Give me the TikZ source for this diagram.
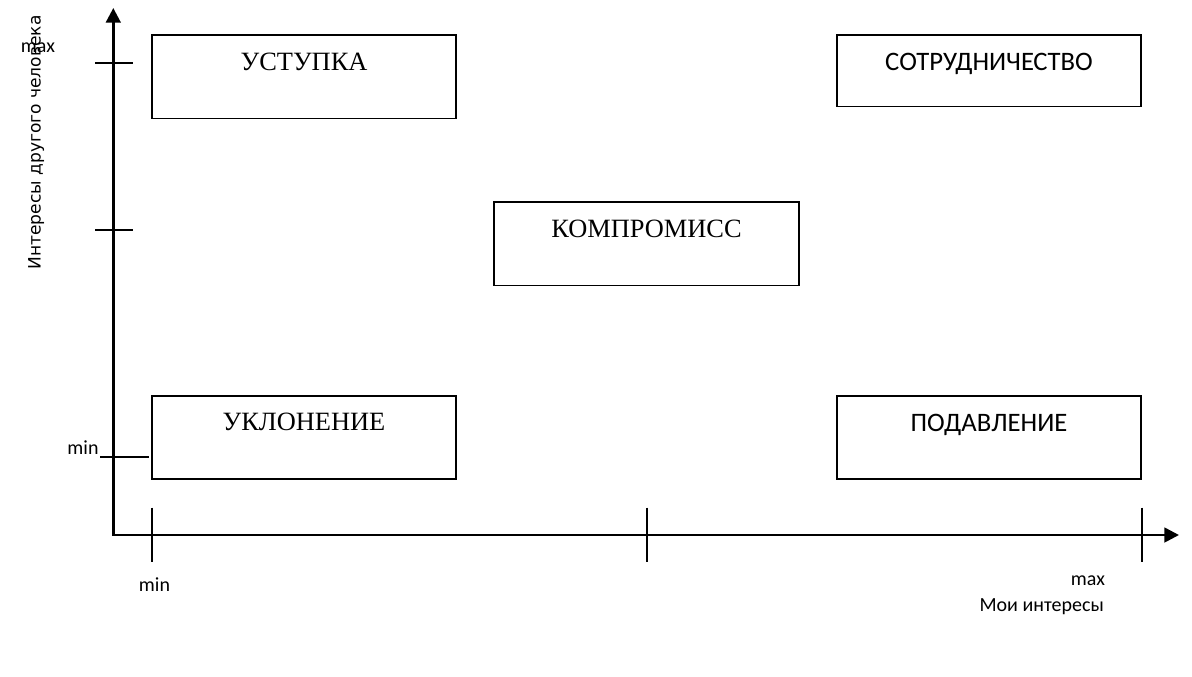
\documentclass[tikz,border=0pt]{standalone}
\usepackage{fontspec}
\setmainfont{Liberation Serif}
\newfontfamily\carlito{Carlito}
\newfontfamily\dejavu{DejaVu Sans}
\usetikzlibrary{arrows.meta,calc}

\begin{document}
\begin{tikzpicture}[
  x=0.75pt, y=-0.75pt,
  box/.style={draw, line width=1.4pt, minimum width=228.4pt, minimum height=62.6pt, inner sep=0pt},
  rtxt/.style={anchor=base, inner sep=0pt, font=\fontsize{19.8}{23}\selectfont},
  stxt/.style={anchor=base, inner sep=0pt, font=\carlito\fontsize{20}{24}\selectfont},
  lbl/.style={anchor=base, inner sep=0pt, font=\carlito\fontsize{15}{18}\selectfont},
  axis/.style={line width=2pt, {Triangle[length=11pt, width=11pt]}-{Triangle[length=11pt, width=11pt]}},
  tk/.style={line width=1.5pt}
]
  \useasboundingbox (0,0) rectangle (1192,676);

  % axes
  \coordinate (o) at (113.3,535);
  \coordinate (ytop) at (113.3,8);
  \coordinate (xend) at (1179,535);
  \draw[axis] (ytop) -- (o) -- (xend);

  % ticks
  \foreach \y in {62.7,230} \draw[tk] (95,\y) -- (132.5,\y);
  \draw[tk] (100,456.7) -- (149,456.7);
  \foreach \x in {151.7,647,1141.7} \draw[tk] (\x,507.7) -- (\x,562);

  % boxes
  \node[box] (ustupka) at (304,76.75) {};
  \node[box] (kompromiss) at (646.5,243.7) {};
  \node[box, minimum height=53.6pt] (sotrud) at (989,70.75) {};
  \node[box] (uklon) at (304,437.5) {};
  \node[box] (podavl) at (989,437.5) {};

  \node[rtxt] (ustupkaT) at ($(ustupka.north)+(0,36.5)$) {УСТУПКА};
  \node[rtxt] (kompromissT) at ($(kompromiss.north)+(0,36)$) {КОМПРОМИСС};
  \node[stxt] (sotrudT) at ($(sotrud.north)+(0,36.5)$) {СОТРУДНИЧЕСТВО};
  \node[rtxt] (uklonT) at ($(uklon.north)+(0,36)$) {УКЛОНЕНИЕ};
  \node[stxt] (podavlT) at ($(podavl.north)+(0,36.5)$) {ПОДАВЛЕНИЕ};

  % axis labels
  \node[anchor=base, rotate=90, inner sep=0pt, font=\dejavu\fontsize{12.8}{15}\selectfont] (yname) at (40.5,142.5) {Интересы другого человека};
  \node[lbl] (ymax) at (38,52) {max};
  \node[lbl] (ymin) at (83,454) {min};
  \node[lbl] (xmin) at (154.5,591.7) {min};
  \node[lbl] (xmax) at (1088,585) {max};
  \node[lbl] (xname) at (1041.7,611.7) {Мои интересы};
\end{tikzpicture}
\end{document}
